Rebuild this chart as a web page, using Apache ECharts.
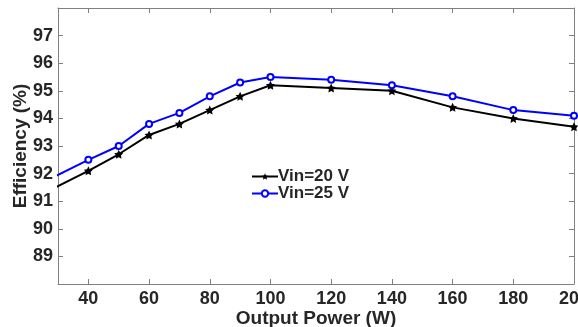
<html lang="en">
<head>
  <meta charset="UTF-8">
  <title>efficiency chart</title>
  <style>
    html, body { margin: 0; padding: 0; background: #fff; }
    #chart { width: 578px; height: 327px; }
  </style>
</head>
<body>
  <div id="chart"></div>
  <script src="https://cdn.jsdelivr.net/npm/echarts@6/dist/echarts.min.js"></script>
  <script>
    // output power (W); the 20 W point sits left of the axis and is clipped
    var power = [20, 40, 50, 60, 70, 80, 90, 100, 120, 140, 160, 180, 200]
    var eff20 = [91.0, 92.1, 92.7, 93.4, 93.8, 94.3, 94.8, 95.2, 95.1, 95.0, 94.4, 94.0, 93.7]
    var eff25 = [91.4, 92.5, 93.0, 93.8, 94.2, 94.8, 95.3, 95.5, 95.4, 95.2, 94.8, 94.3, 94.1]
    var names = ['Vin=20 V', 'Vin=25 V']
    var xTicks = [40, 60, 80, 100, 120, 140, 160, 180, 200]
    var yTicks = [89, 90, 91, 92, 93, 94, 95, 96, 97]

    var star = 'path://M0,-10 L2.9,-4 L9.5,-3.1 L4.8,1.5 L5.9,8.1 L0,5 L-5.9,8.1 L-4.8,1.5 L-9.5,-3.1 L-2.9,-4 Z'
    var font = 'Arial, "Liberation Sans", sans-serif'
    var axisColor = '#808080'
    var textColor = '#262626'

    function pairs(xs, ys) {
      return xs.map(function (x, i) { return [x, ys[i]] })
    }

    var tick = { inside: true, length: 5, lineStyle: { color: axisColor } }
    var line = { show: true, lineStyle: { color: axisColor, width: 1 } }

    var chart = echarts.init(document.getElementById('chart'))
    chart.setOption({
      animation: false,
      grid: { left: 58, top: 8, right: 4, bottom: 43, containLabel: false, outerBoundsMode: 'none' },
      legend: {
        orient: 'vertical',
        left: 246,
        top: 163,
        itemWidth: 26,
        itemHeight: 8,
        itemGap: 0,
        textStyle: { fontFamily: font, fontWeight: 'bold', fontSize: 17, color: textColor, padding: [0, 0, 0, -5] },
        data: names
      },
      xAxis: [{
        type: 'value',
        min: 30,
        max: 200,
        interval: 10,
        name: 'Output Power (W)',
        nameLocation: 'middle',
        nameGap: 25,
        nameMoveOverlap: false,
        nameTextStyle: { fontFamily: font, fontWeight: 'bold', fontSize: 19, color: textColor },
        axisLine: line,
        axisTick: Object.assign({ customValues: xTicks }, tick),
        axisLabel: {
          fontFamily: font, fontWeight: 'bold', fontSize: 18, color: textColor, margin: 6,
          customValues: xTicks
        },
        splitLine: { show: false }
      }, {
        type: 'value',
        position: 'top',
        min: 30,
        max: 200,
        interval: 10,
        axisLine: line,
        axisTick: Object.assign({ customValues: xTicks }, tick),
        axisLabel: { show: false },
        splitLine: { show: false }
      }],
      yAxis: [{
        type: 'value',
        min: 88,
        max: 98,
        interval: 1,
        name: 'Efficiency (%)',
        nameLocation: 'middle',
        nameGap: 28,
        nameMoveOverlap: false,
        nameTextStyle: { fontFamily: font, fontWeight: 'bold', fontSize: 19, color: textColor },
        axisLine: line,
        axisTick: Object.assign({ customValues: yTicks }, tick),
        axisLabel: {
          fontFamily: font, fontWeight: 'bold', fontSize: 18, color: textColor, margin: 5,
          customValues: yTicks
        },
        splitLine: { show: false }
      }, {
        type: 'value',
        position: 'right',
        min: 88,
        max: 98,
        interval: 1,
        axisLine: line,
        axisTick: Object.assign({ customValues: yTicks }, tick),
        axisLabel: { show: false },
        splitLine: { show: false }
      }],
      series: [{
        name: names[0],
        type: 'line',
        data: pairs(power, eff20),
        clip: true,
        symbol: star,
        symbolSize: 9,
        color: '#000000',
        itemStyle: { color: '#000000' },
        lineStyle: { color: '#000000', width: 2 }
      }, {
        name: names[1],
        type: 'line',
        data: pairs(power, eff25),
        clip: true,
        symbol: 'emptyCircle',
        symbolSize: 6,
        color: '#0000ff',
        itemStyle: { color: '#0000ff', borderWidth: 1.5 },
        lineStyle: { color: '#0000ff', width: 2 }
      }]
    })
  </script>
</body>
</html>
